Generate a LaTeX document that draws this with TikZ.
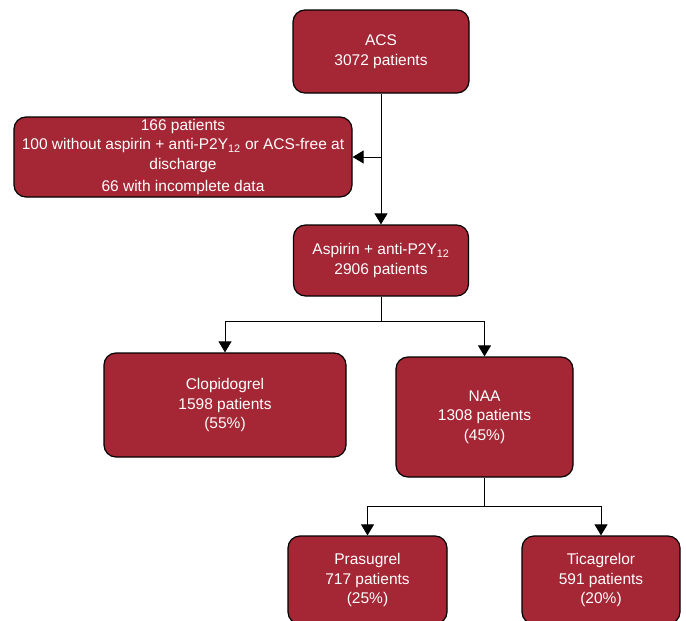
\documentclass[tikz,border=0pt]{standalone}
\usepackage{fontspec}
\setmainfont{Liberation Sans}
\usepackage{xcolor}
\usetikzlibrary{arrows.meta}
\definecolor{boxred}{RGB}{165,38,52}
\tikzstyle{redbox}=[draw=black, line width=1.2pt, fill=boxred, rounded corners=12pt, text=white, align=center, inner sep=0pt, font=\fontsize{15.5}{19.5}\selectfont]
\tikzstyle{flow}=[line width=0.9pt, -{Triangle[length=11pt,width=13pt]}]

\begin{document}
\begin{tikzpicture}[x=1pt,y=-1pt]
		\useasboundingbox (0,0) rectangle (686,621);
		\node[redbox, minimum width=176pt, minimum height=83pt] (acs) at (381,51.5) {ACS\\3072 patients};
		\node[redbox, minimum width=338pt, minimum height=80pt] (excl) at (183,157) {166 patients\\100 without aspirin + anti-P2Y\textsubscript{12} or ACS-free at\\discharge\\[3pt]66 with incomplete data};
		\node[redbox, minimum width=175pt, minimum height=71pt] (asp) at (381,260.5) {Aspirin + anti-P2Y\textsubscript{12}\\2906 patients};
		\node[redbox, minimum width=242pt, minimum height=104pt] (clop) at (225,405) {Clopidogrel\\1598 patients\\(55\%)};
		\node[redbox, minimum width=177pt, minimum height=120pt] (naa) at (484.5,417) {NAA\\1308 patients\\(45\%)};
		\node[redbox, minimum width=159pt, minimum height=88pt] (pras) at (367.5,580) {Prasugrel\\717 patients\\(25\%)};
		\node[redbox, minimum width=158pt, minimum height=88pt] (tica) at (601,580) {Ticagrelor\\591 patients\\(20\%)};
		\coordinate (split1) at (381,321);
		\coordinate (split2) at (484.5,506);
		\draw[flow] (acs.south) -- (asp.north);
		\draw[flow] (acs.south |- excl.east) -- (excl.east);
		\draw[line width=0.9pt] (asp.south) -- (split1);
		\draw[flow] (split1) -| (clop.north);
		\draw[flow] (split1) -| (naa.north);
		\draw[line width=0.9pt] (naa.south) -- (split2);
		\draw[flow] (split2) -| (pras.north);
		\draw[flow] (split2) -| (tica.north);
	\end{tikzpicture}
\end{document}
